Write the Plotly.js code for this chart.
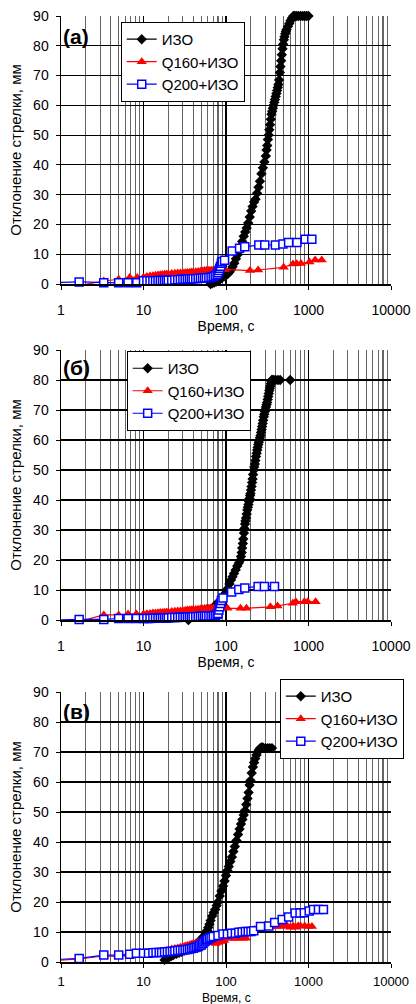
<!DOCTYPE html>
<html><head><meta charset="utf-8">
<script src="https://cdn.plot.ly/plotly-3.0.1.min.js"></script>
<style>html,body{margin:0;padding:0;background:#fff}</style>
</head><body><div id="chart" style="width:416px;height:1004px"></div>
<script>
// ---------- DATA ----------
const seriesNames = ['ИЗО', 'Q160+ИЗО', 'Q200+ИЗО'];
const panelLabels = ['(а)', '(б)', '(в)'];
const xTitle = 'Время, с';
const yTitle = 'Отклонение стрелки, мм';
const xTickVals = [1, 10, 100, 1000, 10000];

// Panel (a)
const a_izo_x = [65,68,72,76,80,85,90,95,100,105,110,115,120,126,132,138,144,150,157,164,171,178,186,194,202,210,219,228,238,248,258,269,280,292,304,310,316,322,329,335,342,349,356,363,370,377,385,392,400,408,416,424,432,440,449,457,466,475,484,493,503,512,522,532,542,563,585,607,630,655,680,710,750,800,850,900,950,1000];
const a_izo_y = [0,0.2,0.5,0.8,1.2,1.6,2.2,2.6,2.9,3.4,4.0,4.8,5.8,7.0,8.5,9.8,11.0,12.5,14.3,16,17.5,18.8,20.5,22.5,24.5,26,27.5,28.5,30.5,32.5,34.5,37,39,41,43,45,46.5,48.5,50,51.8,53.5,55.3,57,58,59,60,61,62,63,64,65,66,67,68.5,71,73,75,77,79,80.5,82,83,84,84.8,85.5,86.5,87.5,88.5,89.3,90,90,90,90,90,90,90,90,90];
const a_q160_x = [0.8,1.66,3.3,5,6.8,8.4,10,11,12,13,14,15,16,17,18,19,20,22,24,26,28,30,32,34,36,38,40,43,46,49,52,55,58,62,66,70,75,80,85,90,97,195,245,500,648,720,809,1028,1203,1446];
const a_q160_y = [0,-0.5,1.0,1.6,2.2,2.2,2.3,2.5,2.7,2.8,2.9,3.0,3.1,3.2,3.3,3.3,3.4,3.5,3.6,3.7,3.7,3.8,3.8,3.9,3.9,4.0,4.0,4.1,4.2,4.3,4.4,4.5,4.5,4.6,4.6,4.7,4.8,4.8,4.9,4.9,4.9,4.5,4.7,5.6,6.7,6.8,6.9,7.4,8.1,8.1];
const a_q200_x = [0.8,1.66,3.3,5,6.5,8.3,10,11,12,13,14,15,16,17,18,19,20,22,24,26,28,30,32,34,36,38,40,43,46,49,52,55,58,62,66,70,74,78,80,82,84,86,88,90,96,119,146,169,250,295,397,490,574,724,914,1097];
const a_q200_y = [0.5,0.7,0.4,0.4,0.4,0.4,1.1,1.1,1.1,1.1,1.1,1.2,1.2,1.2,1.2,1.3,1.3,1.3,1.4,1.4,1.5,1.6,1.6,1.7,1.8,1.8,1.8,1.8,1.9,1.9,2.0,2.0,2.1,2.2,2.3,2.5,2.8,3.2,3.8,4.5,5.3,6.0,7.0,7.5,8.0,11.1,12.0,12.5,13.1,13.1,13.1,13.4,13.9,13.9,15.0,15.0];

// Panel (б)
const b_izo_x = [27,35,40,45,50,55,60,65,70,75,80,85,90,95,100,105,110,115,120,125,131,137,143,150,152,155,157,160,162,165,167,170,172,175,178,181,184,187,190,193,196,198,201,204,207,210,213,217,220,224,227,231,235,239,242,246,250,254,258,262,266,270,274,278,282,287,291,296,300,305,310,315,320,325,330,335,340,345,350,355,360,365,380,400,427,454,600];
const b_izo_y = [-0.5,0,1,2.5,3,3.2,3.5,3.6,4.2,5,5.8,6.5,7.5,8.3,9.2,10.5,12,13.3,14.4,15.5,16.7,18,19,20,21.2,22.5,24,25.5,27,29,30.5,32,33,34,35.3,36.7,37.6,38.5,39.5,40.5,41.5,42.2,43.3,44.5,45.8,47,48.5,50,51,52,53.2,54.5,55.6,56.7,57.6,58.5,59.3,60,60.8,61.5,62.5,63.5,64.5,65.5,66.6,67.8,68.6,69.5,70.2,71,71.8,72.5,73.5,74.5,75.5,76.5,77.3,78,78.8,79.5,80,80,80,80,80,80,80];
const b_q160_x = [0.8,1.66,3.3,5,6.5,8.2,10,11,12,13,14,15,16,17,18,19,20,22,24,26,28,30,32,34,36,38,40,43,46,49,52,55,58,62,66,70,75,80,85,104,150,177,345,421,646,702,890,980,1220];
const b_q160_y = [0,-0.5,1.7,1.7,2.0,2.0,2.0,2.1,2.2,2.3,2.3,2.4,2.5,2.5,2.6,2.6,2.7,2.8,2.9,3.0,3.0,3.1,3.2,3.3,3.3,3.4,3.5,3.5,3.6,3.7,3.7,3.8,3.8,3.9,3.9,4.0,4.0,4.1,4.1,3.9,3.9,3.9,4.4,4.7,5.6,6.1,6.1,6.1,6.1];
const b_q200_x = [0.8,1.66,3.3,5,6.5,8.2,10,11,12,13,14,15,16,17,18,19,20,22,24,26,28,30,32,34,36,38,40,43,46,49,52,55,58,62,66,70,74,78,80,82,84,86,88,92,117,143,169,245,292,387];
const b_q200_y = [0,0.2,0.2,0.5,0.5,0.5,0.5,0.5,0.5,0.6,0.6,0.6,0.6,0.7,0.7,0.7,0.7,0.8,0.8,0.8,0.9,0.9,0.9,1.0,1.0,1.0,1.1,1.1,1.2,1.2,1.3,1.3,1.3,1.3,1.3,1.4,1.5,1.8,2.2,3.3,4.4,5.5,6.5,7.3,9.3,10.2,10.7,11.2,11.2,11.2];

// Panel (в)
const c_izo_x = [3.3,6.6,10,13,16.6,18,19,20,21.5,23,25,27,29,31,33,35,37,39,41,43,45,47,49,51,53,55,57,59,61,63,65,68,71,74,77,80,84,88,92,96,100,104,108,113,118,123,128,134,140,146,152,158,164,170,176,182,188,193,198,205,212,219,226,234,242,250,260,270,280,300,320,340,361];
const c_izo_y = [-0.5,-0.5,-0.5,-0.5,-0.5,0.7,1.0,1.4,1.9,2.3,2.7,3.1,3.4,3.7,4.0,4.4,4.8,5.1,5.5,5.9,6.3,6.8,7.3,7.8,8.3,8.8,9.6,10.5,11.5,12.6,13.8,15.3,16.5,17.5,18.8,20.0,22.0,23.7,25.3,27.0,28.8,30.5,31.8,33.5,35.0,36.8,38.5,40.5,42.5,44.3,46.0,47.5,49.0,50.5,52.5,54.5,56.5,59.0,60.5,63.0,65.0,66.5,67.8,69.0,70.0,70.7,71.3,71.5,71.5,71.3,71.3,71.3,71.3];
const c_q160_x = [0.8,1.66,3.3,5,6.6,8.2,10,11,12,13,14,15,16,17,18,19,20,22,24,26,28,30,32,34,36,38,40,43,46,49,52,55,58,62,66,70,75,80,85,90,95,110,120,130,145,160,175,220,250,280,300,350,400,450,500,550,600,650,700,750,800,900,1000,1100];
const c_q160_y = [0.5,1.0,2.0,1.8,2.5,2.5,2.9,3.0,3.1,3.2,3.3,3.4,3.5,3.6,3.7,3.8,4.0,4.3,4.5,4.7,4.9,5.1,5.3,5.5,5.7,5.9,6.1,6.3,6.6,6.9,7.0,7.0,6.8,6.6,6.4,6.5,6.2,6.5,6.8,7.0,7.2,7.9,7.9,7.9,7.9,7.9,7.9,10.8,11.2,11.8,11.8,11.8,11.8,11.8,12.0,12.0,11.6,12.0,11.6,12.0,12.0,12.0,11.8,11.8];
const c_q200_x = [0.8,1.66,3.3,5,6.8,8.2,10,11.5,13,14.2,15.5,16.6,18,19.5,21,22.5,24,26,28,30,32,34,36,38,40,42,44,46,48,50,52,54,56,58,60,63,66,70,80,92,104,117,130,143,157,172,186,201,217,262,330,389,480,574,688,790,890,1020,1150,1320,1517];
const c_q200_y = [0.8,1.2,2.3,2.3,2.6,2.9,2.9,2.9,3.1,3.2,3.2,3.2,3.3,3.4,3.5,3.6,3.7,3.8,3.9,4.0,4.1,4.2,4.3,4.5,4.6,4.8,5.0,5.2,5.5,5.7,6.2,6.7,7.0,7.3,7.6,7.9,8.2,8.5,8.8,9.3,9.3,9.6,9.6,9.9,10.0,10.2,10.2,10.2,10.4,11.8,12.0,13.2,14.2,15.0,16.3,16.3,16.4,17.0,17.5,17.5,17.5];

// ---------- BUILD ----------
const panels = [
  {xs:[a_izo_x,a_q160_x,a_q200_x], ys:[a_izo_y,a_q160_y,a_q200_y]},
  {xs:[b_izo_x,b_q160_x,b_q200_x], ys:[b_izo_y,b_q160_y,b_q200_y]},
  {xs:[c_izo_x,c_q160_x,c_q200_x], ys:[c_izo_y,c_q160_y,c_q200_y]}
];
const styles = [
  {line:{color:'#000000',width:1.2}, marker:{symbol:'diamond', size:8, color:'#000000'}},
  {line:{color:'#ff0000',width:1.2}, marker:{symbol:'triangle-up', size:9, color:'#ff0000'}},
  {line:{color:'#0000ff',width:1.2}, marker:{symbol:'square', size:8, color:'#ffffff', line:{color:'#0000ff', width:1.5}}}
];
const traces = [];
panels.forEach((p, pi) => {
  const sx = pi === 0 ? '' : String(pi + 1);
  p.xs.forEach((xv, si) => {
    const st = styles[si];
    const yv = p.ys[si];
    // line segment entering from the left edge (point before x=1 is off-axis)
    const lead = xv.map((v, k) => k).filter(k => xv[k] < 1);
    if (lead.length) {
      const last = lead[lead.length - 1] + 1;
      traces.push({
        x: xv.slice(0, last + 1), y: yv.slice(0, last + 1), type: 'scatter', mode: 'lines',
        xaxis: 'x' + sx, yaxis: 'y' + sx, showlegend: false, hoverinfo: 'skip',
        line: st.line
      });
    }
    const keep = xv.map((v, k) => k).filter(k => xv[k] >= 1);
    traces.push({
      x: keep.map(k => xv[k]), y: keep.map(k => yv[k]), type: 'scatter', mode: 'lines+markers',
      name: seriesNames[si], xaxis: 'x' + sx, yaxis: 'y' + sx,
      legend: 'legend' + sx, legendgroup: 'g' + pi + si,
      cliponaxis: false,
      line: st.line,
      marker: st.marker
    });
  });
});

const font = {family: '"Liberation Sans", Arial, sans-serif', color: '#000'};
const yDomains = [[0.7167, 1], [0.3615, 0.6469], [0, 0.2854]];
const layout = {
  width: 416, height: 1004,
  margin: {l: 61, r: 23, t: 16, b: 42},
  paper_bgcolor: '#fff', plot_bgcolor: '#fff',
  font: Object.assign({size: 14}, font),
  showlegend: true,
  annotations: []
};
const legendPos = [[0.181, 0.9937], [0.199, 0.6459], [0.663, 0.2992]];
const labelY = [0.925, 0.937, 0.926];
yDomains.forEach((dom, i) => {
  const sx = i === 0 ? '' : String(i + 1);
  const last = i === 2;
  layout['xaxis' + sx] = {
    type: 'log', range: [0, 4], domain: [0, 1], anchor: 'y' + sx,
    tickmode: 'array', tickvals: xTickVals, ticktext: xTickVals.map(String),
    showgrid: true, gridcolor: '#000', gridwidth: 1.2,
    minor: {dtick: 'D1', showgrid: true, gridcolor: '#666666', gridwidth: 1.1},
    showline: true, linecolor: '#000', linewidth: 2,
    ticks: 'outside', ticklen: 4, tickcolor: '#000',
    tickfont: Object.assign({size: last ? 13 : 14}, font),
    zeroline: false, automargin: false,
    ticklabelstandoff: last ? 2 : 8,
    title: last ? {text: ''} : {text: xTitle, font: Object.assign({size: 14}, font), standoff: 0}
  };
  layout['yaxis' + sx] = {
    range: [0, 90], domain: dom, anchor: 'x' + sx,
    tickmode: 'linear', tick0: 0, dtick: 10,
    showgrid: true, gridcolor: '#000', gridwidth: 1.2,
    showline: true, linecolor: '#000', linewidth: 1.5,
    ticks: 'outside', ticklen: 4, tickcolor: '#000',
    tickfont: Object.assign({size: 14}, font),
    zeroline: false, automargin: false,
    ticklabelstandoff: 4,
    title: {text: yTitle, font: Object.assign({size: 15}, font), standoff: 8}
  };
  layout['legend' + sx] = {
    x: legendPos[i][0], y: legendPos[i][1], xanchor: 'left', yanchor: 'top',
    xref: 'paper', yref: 'paper',
    bgcolor: '#fff', bordercolor: '#000', borderwidth: 1,
    font: Object.assign({size: 15}, font),
    traceorder: 'grouped', tracegroupgap: 0
  };
  layout.annotations.push({
    text: '<b>' + panelLabels[i] + '</b>', showarrow: false,
    xref: 'x' + sx + ' domain', yref: 'y' + sx + ' domain',
    x: 0.0, y: labelY[i], xanchor: 'left', yanchor: 'middle',
    font: Object.assign({size: 21}, font)
  });
  if (last) {
    // bottom x-axis title placed against the lower edge of the page
    layout.annotations.push({
      text: xTitle, showarrow: false,
      xref: 'x3 domain', yref: 'y3 domain',
      x: 0.5, y: -0.1, xanchor: 'center', yanchor: 'top',
      font: Object.assign({size: 12}, font)
    });
  }
});

Plotly.newPlot('chart', traces, layout, {displayModeBar: false, staticPlot: true});
</script></body></html>
